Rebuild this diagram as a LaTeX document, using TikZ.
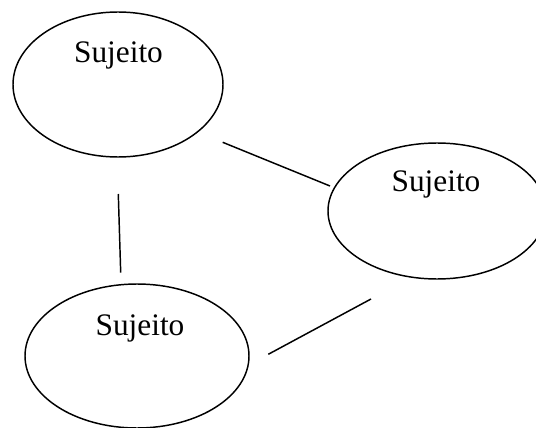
\documentclass[tikz,border=0pt]{standalone}
\usepackage{fontspec}
\setmainfont{Liberation Serif}
\usetikzlibrary{shapes}

\begin{document}
\begin{tikzpicture}[x=0.75pt,y=-0.75pt,line width=1.1pt]
    \tikzstyle{subject}=[draw, ellipse, inner sep=0pt, fill=none]
    \tikzstyle{subjtext}=[text=black, inner sep=0pt, anchor=base, font=\fontsize{23.5}{28}\selectfont]

    \clip (0,0) rectangle (536,428);

    \node[subject,minimum width=157.5pt,minimum height=108.75pt] (S1) at (118,84.5) {};
    \node[subject,minimum width=163.5pt,minimum height=102pt]    (S2) at (437,211)  {};
    \node[subject,minimum width=168pt,minimum height=108pt]      (S3) at (137,356)  {};

    \node[subjtext] (T1) at (118.5,63) {Sujeito};
    \node[subjtext] (T2) at (436,191)  {Sujeito};
    \node[subjtext] (T3) at (140,335)  {Sujeito};

    % loose ends of the links
    \coordinate (a12) at (222.7,142.3);
    \coordinate (b12) at (330,186);
    \coordinate (a13) at (118.3,194);
    \coordinate (b13) at (120.7,272.7);
    \coordinate (a23) at (371,299);
    \coordinate (b23) at (268.3,354.3);

    \path
     (a12) edge (b12)
     (a13) edge (b13)
     (a23) edge (b23);
\end{tikzpicture}
\end{document}
